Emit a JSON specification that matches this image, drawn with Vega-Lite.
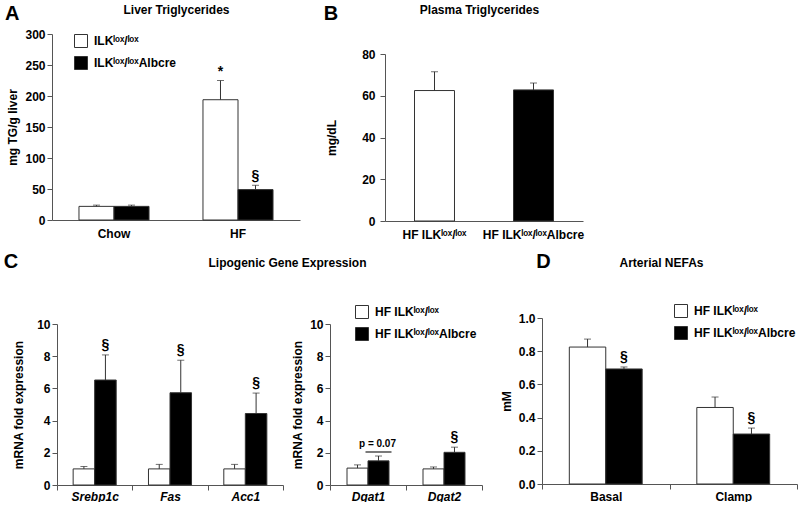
{
  "$schema": "https://vega.github.io/schema/vega-lite/v6.json",
  "padding": {"left": 3, "top": 3, "right": 0, "bottom": 0},
  "background": "white",
  "config": {
    "font": "Liberation Sans",
    "view": {"stroke": null},
    "title": {"fontSize": 20, "fontWeight": "bold", "anchor": "start", "frame": "bounds", "color": "#000", "offset": 0},
    "axis": {"labelFontSize": 12, "labelFontWeight": "bold", "labelColor": "#000", "titleFontSize": 12, "titleFontWeight": "bold", "titleColor": "#000", "domainColor": "#555", "tickColor": "#555", "domainWidth": 1, "tickWidth": 1, "tickSize": 5, "grid": false, "labelPadding": 2, "labelOverlap": false},
    "axisX": {"labelAngle": 0},
    "legend": {"orient": "none", "title": null, "symbolType": "square", "symbolSize": 169, "symbolStrokeColor": "#333", "symbolStrokeWidth": 1, "labelFontSize": 12, "labelFontWeight": "bold", "labelColor": "#000", "rowPadding": 4, "labelOffset": 6, "padding": 0},
    "bar": {"stroke": "#333", "strokeWidth": 1}
  },
  "resolve": {"scale": {"fill": "independent", "xOffset": "independent"}, "legend": {"fill": "independent"}},
  "spacing": 12,
  "vconcat": [
    {
      "hconcat": [
        {
          "width": 248, "height": 186,
          "title": {"text": "A", "dx": -2, "dy": 25},
          "data": {"values": [
            {"diet": "Chow", "group": "ILKˡᵒˣ/ˡᵒˣ", "mean": 22, "upper": 24, "sig": ""},
            {"diet": "Chow", "group": "ILKˡᵒˣ/ˡᵒˣAlbcre", "mean": 22, "upper": 24, "sig": ""},
            {"diet": "HF", "group": "ILKˡᵒˣ/ˡᵒˣ", "mean": 194, "upper": 225, "sig": "*"},
            {"diet": "HF", "group": "ILKˡᵒˣ/ˡᵒˣAlbcre", "mean": 49, "upper": 56, "sig": "§"}
          ]},
          "resolve": {"axis": {"x": "independent"}},
          "encoding": {
            "x": {"field": "diet", "type": "nominal", "scale": {"domain": ["Chow", "HF"], "paddingInner": 0, "paddingOuter": 0}, "axis": null},
            "xOffset": {"field": "group", "type": "nominal", "scale": {"domain": ["ILKˡᵒˣ/ˡᵒˣ", "ILKˡᵒˣ/ˡᵒˣAlbcre"], "paddingInner": 0, "paddingOuter": 0.77}}
          },
          "layer": [
            {
              "mark": {"type": "bar"},
              "encoding": {
                "x": {"field": "diet", "type": "nominal", "scale": {"domain": ["Chow", "HF"], "paddingInner": 0, "paddingOuter": 0}, "axis": {"title": null, "ticks": false, "labelPadding": 8}},
                "y": {"field": "mean", "type": "quantitative", "scale": {"domain": [0, 300], "nice": false}, "axis": {"title": "mg TG/g liver", "values": [0, 50, 100, 150, 200, 250, 300], "titlePadding": 5}},
                "fill": {"field": "group", "type": "nominal", "scale": {"domain": ["ILKˡᵒˣ/ˡᵒˣ", "ILKˡᵒˣ/ˡᵒˣAlbcre"], "range": ["#ffffff", "#000000"]}, "legend": {"legendX": 22, "legendY": 0}}
              }
            },
            {
              "mark": {"type": "rule", "color": "#333", "strokeWidth": 1},
              "encoding": {
                "x": {"field": "diet", "type": "nominal", "scale": {"domain": ["Chow", "HF"], "paddingInner": 0, "paddingOuter": 0}, "axis": {"orient": "top", "title": "Liver Triglycerides", "labels": false, "ticks": false, "domain": false, "titlePadding": 18}},
                "y": {"field": "mean", "type": "quantitative", "scale": {"domain": [0, 300], "nice": false}, "axis": {"title": "mg TG/g liver", "values": [0, 50, 100, 150, 200, 250, 300], "titlePadding": 5}},
                "y2": {"field": "upper"}
              }
            },
            {
              "mark": {"type": "tick", "color": "#333", "size": 7, "thickness": 1},
              "encoding": {"y": {"field": "upper", "type": "quantitative", "scale": {"domain": [0, 300], "nice": false}, "axis": {"title": "mg TG/g liver", "values": [0, 50, 100, 150, 200, 250, 300], "titlePadding": 5}}}
            },
            {
              "mark": {"type": "text", "baseline": "bottom", "dy": -2, "fontSize": 14, "fontWeight": "bold"},
              "encoding": {"y": {"field": "upper", "type": "quantitative", "scale": {"domain": [0, 300], "nice": false}, "axis": {"title": "mg TG/g liver", "values": [0, 50, 100, 150, 200, 250, 300], "titlePadding": 5}}, "text": {"field": "sig"}}
            }
          ]
        },
        {
          "width": 198, "height": 187,
          "title": {"text": "B", "dx": -2, "dy": 25},
          "data": {"values": [
            {"group": "HF ILKˡᵒˣ/ˡᵒˣ", "mean": 62.5, "upper": 71.5},
            {"group": "HF ILKˡᵒˣ/ˡᵒˣAlbcre", "mean": 62.8, "upper": 66.1}
          ]},
          "resolve": {"axis": {"x": "independent"}},
          "encoding": {
            "x": {"field": "group", "type": "nominal", "scale": {"domain": ["HF ILKˡᵒˣ/ˡᵒˣ", "HF ILKˡᵒˣ/ˡᵒˣAlbcre"], "paddingInner": 0.596, "paddingOuter": 0.298}, "axis": null}
          },
          "layer": [
            {
              "mark": {"type": "bar"},
              "encoding": {
                "x": {"field": "group", "type": "nominal", "scale": {"domain": ["HF ILKˡᵒˣ/ˡᵒˣ", "HF ILKˡᵒˣ/ˡᵒˣAlbcre"], "paddingInner": 0.596, "paddingOuter": 0.298}, "axis": {"title": null, "ticks": false, "labelPadding": 8}},
                "y": {"field": "mean", "type": "quantitative", "scale": {"domain": [0, 80], "nice": false, "range": [187, 20]}, "axis": {"title": "mg/dL", "values": [0, 20, 40, 60, 80], "labelPadding": 5, "titlePadding": 23}},
                "fill": {"field": "group", "type": "nominal", "scale": {"domain": ["HF ILKˡᵒˣ/ˡᵒˣ", "HF ILKˡᵒˣ/ˡᵒˣAlbcre"], "range": ["#ffffff", "#000000"]}, "legend": null}
              }
            },
            {
              "mark": {"type": "rule", "color": "#333", "strokeWidth": 1},
              "encoding": {
                "x": {"field": "group", "type": "nominal", "scale": {"domain": ["HF ILKˡᵒˣ/ˡᵒˣ", "HF ILKˡᵒˣ/ˡᵒˣAlbcre"], "paddingInner": 0.596, "paddingOuter": 0.298}, "axis": {"orient": "top", "title": "Plasma Triglycerides", "labels": false, "ticks": false, "domain": false, "titlePadding": 18, "titleX": 94}},
                "y": {"field": "mean", "type": "quantitative", "scale": {"domain": [0, 80], "nice": false, "range": [187, 20]}, "axis": {"title": "mg/dL", "values": [0, 20, 40, 60, 80], "labelPadding": 5, "titlePadding": 23}},
                "y2": {"field": "upper"}
              }
            },
            {
              "mark": {"type": "tick", "color": "#333", "size": 7, "thickness": 1},
              "encoding": {"y": {"field": "upper", "type": "quantitative", "scale": {"domain": [0, 80], "nice": false, "range": [187, 20]}, "axis": {"title": "mg/dL", "values": [0, 20, 40, 60, 80], "labelPadding": 5, "titlePadding": 23}}}
            }
          ]
        }
      ],
      "spacing": 23,
      "resolve": {"scale": {"fill": "independent", "xOffset": "independent"}, "legend": {"fill": "independent"}}
    },
    {
      "hconcat": [
        {
          "hconcat": [
            {
              "width": 231, "height": 167,
              "title": {"text": "C", "dx": -9, "dy": 20},
              "data": {"values": [
                {"gene": "Srebp1c", "group": "HF ILKˡᵒˣ/ˡᵒˣ", "mean": 1.0, "upper": 1.15, "sig": ""},
                {"gene": "Srebp1c", "group": "HF ILKˡᵒˣ/ˡᵒˣAlbcre", "mean": 6.52, "upper": 8.08, "sig": "§"},
                {"gene": "Fas", "group": "HF ILKˡᵒˣ/ˡᵒˣ", "mean": 1.0, "upper": 1.28, "sig": ""},
                {"gene": "Fas", "group": "HF ILKˡᵒˣ/ˡᵒˣAlbcre", "mean": 5.73, "upper": 7.75, "sig": "§"},
                {"gene": "Acc1", "group": "HF ILKˡᵒˣ/ˡᵒˣ", "mean": 1.0, "upper": 1.28, "sig": ""},
                {"gene": "Acc1", "group": "HF ILKˡᵒˣ/ˡᵒˣAlbcre", "mean": 4.44, "upper": 5.71, "sig": "§"}
              ]},
              "resolve": {"axis": {"x": "independent"}},
              "encoding": {
                "x": {"field": "gene", "type": "nominal", "scale": {"domain": ["Srebp1c", "Fas", "Acc1"], "paddingInner": 0, "paddingOuter": 0, "range": [5, 231]}, "axis": null},
                "xOffset": {"field": "group", "type": "nominal", "scale": {"domain": ["HF ILKˡᵒˣ/ˡᵒˣ", "HF ILKˡᵒˣ/ˡᵒˣAlbcre"], "paddingInner": 0, "paddingOuter": 0.75}}
              },
              "layer": [
                {
                  "mark": {"type": "bar"},
                  "encoding": {
                    "x": {"field": "gene", "type": "nominal", "scale": {"domain": ["Srebp1c", "Fas", "Acc1"], "paddingInner": 0, "paddingOuter": 0, "range": [5, 231]}, "axis": {"title": null, "tickBand": "extent", "labelFontStyle": "italic", "labelPadding": 1}},
                    "y": {"field": "mean", "type": "quantitative", "scale": {"domain": [0, 10], "nice": false, "range": [167, 6]}, "axis": {"title": "mRNA fold expression", "values": [0, 2, 4, 6, 8, 10], "titlePadding": 11, "offset": -5}},
                    "fill": {"field": "group", "type": "nominal", "scale": {"domain": ["HF ILKˡᵒˣ/ˡᵒˣ", "HF ILKˡᵒˣ/ˡᵒˣAlbcre"], "range": ["#ffffff", "#000000"]}, "legend": null}
                  }
                },
                {
                  "mark": {"type": "rule", "color": "#333", "strokeWidth": 1},
                  "encoding": {
                    "x": {"field": "gene", "type": "nominal", "scale": {"domain": ["Srebp1c", "Fas", "Acc1"], "paddingInner": 0, "paddingOuter": 0, "range": [5, 231]}, "axis": {"orient": "top", "title": "Lipogenic Gene Expression", "labels": false, "ticks": false, "domain": false, "titlePadding": 49, "titleX": 235}},
                    "y": {"field": "mean", "type": "quantitative", "scale": {"domain": [0, 10], "nice": false, "range": [167, 6]}, "axis": {"title": "mRNA fold expression", "values": [0, 2, 4, 6, 8, 10], "titlePadding": 11, "offset": -5}},
                    "y2": {"field": "upper"}
                  }
                },
                {
                  "mark": {"type": "tick", "color": "#333", "size": 7, "thickness": 1},
                  "encoding": {"y": {"field": "upper", "type": "quantitative", "scale": {"domain": [0, 10], "nice": false, "range": [167, 6]}, "axis": {"title": "mRNA fold expression", "values": [0, 2, 4, 6, 8, 10], "titlePadding": 11, "offset": -5}}}
                },
                {
                  "mark": {"type": "text", "baseline": "bottom", "dy": -3, "fontSize": 14, "fontWeight": "bold"},
                  "encoding": {"y": {"field": "upper", "type": "quantitative", "scale": {"domain": [0, 10], "nice": false, "range": [167, 6]}, "axis": {"title": "mRNA fold expression", "values": [0, 2, 4, 6, 8, 10], "titlePadding": 11, "offset": -5}}, "text": {"field": "sig"}}
                }
              ]
            },
            {
              "width": 152, "height": 167,
              "data": {"values": [
                {"gene": "Dgat1", "group": "HF ILKˡᵒˣ/ˡᵒˣ", "mean": 1.05, "upper": 1.25, "sig": ""},
                {"gene": "Dgat1", "group": "HF ILKˡᵒˣ/ˡᵒˣAlbcre", "mean": 1.5, "upper": 1.8, "sig": ""},
                {"gene": "Dgat2", "group": "HF ILKˡᵒˣ/ˡᵒˣ", "mean": 1.0, "upper": 1.12, "sig": ""},
                {"gene": "Dgat2", "group": "HF ILKˡᵒˣ/ˡᵒˣAlbcre", "mean": 2.03, "upper": 2.35, "sig": "§"}
              ]},
              "encoding": {
                "x": {"field": "gene", "type": "nominal", "scale": {"domain": ["Dgat1", "Dgat2"], "paddingInner": 0, "paddingOuter": 0}, "axis": {"title": null, "tickBand": "extent", "labelFontStyle": "italic", "labelPadding": 1}},
                "xOffset": {"field": "group", "type": "nominal", "scale": {"domain": ["HF ILKˡᵒˣ/ˡᵒˣ", "HF ILKˡᵒˣ/ˡᵒˣAlbcre"], "paddingInner": 0, "paddingOuter": 0.81}}
              },
              "layer": [
                {
                  "mark": {"type": "bar"},
                  "encoding": {
                    "y": {"field": "mean", "type": "quantitative", "scale": {"domain": [0, 10], "nice": false, "range": [167, 6]}, "axis": {"title": "mRNA fold expression", "values": [0, 2, 4, 6, 8, 10], "titlePadding": 5}},
                    "fill": {"field": "group", "type": "nominal", "scale": {"domain": ["HF ILKˡᵒˣ/ˡᵒˣ", "HF ILKˡᵒˣ/ˡᵒˣAlbcre"], "range": ["#ffffff", "#000000"]}, "legend": {"legendX": 25, "legendY": -13}}
                  }
                },
                {
                  "mark": {"type": "rule", "color": "#333", "strokeWidth": 1},
                  "encoding": {
                    "y": {"field": "mean", "type": "quantitative", "scale": {"domain": [0, 10], "nice": false, "range": [167, 6]}, "axis": {"title": "mRNA fold expression", "values": [0, 2, 4, 6, 8, 10], "titlePadding": 5}},
                    "y2": {"field": "upper"}
                  }
                },
                {
                  "mark": {"type": "tick", "color": "#333", "size": 7, "thickness": 1},
                  "encoding": {"y": {"field": "upper", "type": "quantitative", "scale": {"domain": [0, 10], "nice": false, "range": [167, 6]}, "axis": {"title": "mRNA fold expression", "values": [0, 2, 4, 6, 8, 10], "titlePadding": 5}}}
                },
                {
                  "mark": {"type": "text", "baseline": "bottom", "dy": -3, "fontSize": 14, "fontWeight": "bold"},
                  "encoding": {"y": {"field": "upper", "type": "quantitative", "scale": {"domain": [0, 10], "nice": false, "range": [167, 6]}, "axis": {"title": "mRNA fold expression", "values": [0, 2, 4, 6, 8, 10], "titlePadding": 5}}, "text": {"field": "sig"}}
                },
                {
                  "data": {"values": [{"gene": "Dgat1", "group": "HF ILKˡᵒˣ/ˡᵒˣAlbcre", "level": 2.05, "label": "p = 0.07"}]},
                  "mark": {"type": "tick", "color": "#000", "size": 26, "thickness": 1.5},
                  "encoding": {"y": {"field": "level", "type": "quantitative", "scale": {"domain": [0, 10], "nice": false, "range": [167, 6]}, "axis": {"title": "mRNA fold expression", "values": [0, 2, 4, 6, 8, 10], "titlePadding": 5}}}
                },
                {
                  "data": {"values": [{"gene": "Dgat1", "group": "HF ILKˡᵒˣ/ˡᵒˣAlbcre", "level": 2.05, "label": "p = 0.07"}]},
                  "mark": {"type": "text", "baseline": "bottom", "dy": -3, "dx": -1, "fontSize": 10, "fontWeight": "bold"},
                  "encoding": {"y": {"field": "level", "type": "quantitative", "scale": {"domain": [0, 10], "nice": false, "range": [167, 6]}, "axis": {"title": "mRNA fold expression", "values": [0, 2, 4, 6, 8, 10], "titlePadding": 5}}, "text": {"field": "label"}}
                }
              ]
            }
          ],
          "spacing": 47,
          "bounds": "flush",
          "resolve": {"scale": {"fill": "independent", "xOffset": "independent"}, "legend": {"fill": "independent"}}
        },
        {
          "width": 255, "height": 166,
          "title": {"text": "D", "dx": 36, "dy": 20},
          "data": {"values": [
            {"cond": "Basal", "group": "HF ILKˡᵒˣ/ˡᵒˣ", "mean": 0.825, "upper": 0.873, "sig": ""},
            {"cond": "Basal", "group": "HF ILKˡᵒˣ/ˡᵒˣAlbcre", "mean": 0.693, "upper": 0.705, "sig": "§"},
            {"cond": "Clamp", "group": "HF ILKˡᵒˣ/ˡᵒˣ", "mean": 0.461, "upper": 0.524, "sig": ""},
            {"cond": "Clamp", "group": "HF ILKˡᵒˣ/ˡᵒˣAlbcre", "mean": 0.301, "upper": 0.337, "sig": "§"}
          ]},
          "resolve": {"axis": {"x": "independent"}},
          "encoding": {
            "x": {"field": "cond", "type": "nominal", "scale": {"domain": ["Basal", "Clamp"], "paddingInner": 0, "paddingOuter": 0}, "axis": null},
            "xOffset": {"field": "group", "type": "nominal", "scale": {"domain": ["HF ILKˡᵒˣ/ˡᵒˣ", "HF ILKˡᵒˣ/ˡᵒˣAlbcre"], "paddingInner": 0, "paddingOuter": 0.75}}
          },
          "layer": [
            {
              "mark": {"type": "bar"},
              "encoding": {
                "x": {"field": "cond", "type": "nominal", "scale": {"domain": ["Basal", "Clamp"], "paddingInner": 0, "paddingOuter": 0}, "axis": {"title": null, "tickBand": "extent", "labelPadding": 2}},
                "y": {"field": "mean", "type": "quantitative", "scale": {"domain": [0, 1], "nice": false}, "axis": {"title": "mM", "values": [0, 0.2, 0.4, 0.6, 0.8, 1.0], "format": ".1f", "titlePadding": 5}},
                "fill": {"field": "group", "type": "nominal", "scale": {"domain": ["HF ILKˡᵒˣ/ˡᵒˣ", "HF ILKˡᵒˣ/ˡᵒˣAlbcre"], "range": ["#ffffff", "#000000"]}, "legend": {"legendX": 132, "legendY": -14}}
              }
            },
            {
              "mark": {"type": "rule", "color": "#333", "strokeWidth": 1},
              "encoding": {
                "x": {"field": "cond", "type": "nominal", "scale": {"domain": ["Basal", "Clamp"], "paddingInner": 0, "paddingOuter": 0}, "axis": {"orient": "top", "title": "Arterial NEFAs", "labels": false, "ticks": false, "domain": false, "titlePadding": 49, "titleX": 119}},
                "y": {"field": "mean", "type": "quantitative", "scale": {"domain": [0, 1], "nice": false}, "axis": {"title": "mM", "values": [0, 0.2, 0.4, 0.6, 0.8, 1.0], "format": ".1f", "titlePadding": 5}},
                "y2": {"field": "upper"}
              }
            },
            {
              "mark": {"type": "tick", "color": "#333", "size": 7, "thickness": 1},
              "encoding": {"y": {"field": "upper", "type": "quantitative", "scale": {"domain": [0, 1], "nice": false}, "axis": {"title": "mM", "values": [0, 0.2, 0.4, 0.6, 0.8, 1.0], "format": ".1f", "titlePadding": 5}}}
            },
            {
              "mark": {"type": "text", "baseline": "bottom", "dy": -3, "fontSize": 14, "fontWeight": "bold"},
              "encoding": {"y": {"field": "upper", "type": "quantitative", "scale": {"domain": [0, 1], "nice": false}, "axis": {"title": "mM", "values": [0, 0.2, 0.4, 0.6, 0.8, 1.0], "format": ".1f", "titlePadding": 5}}, "text": {"field": "sig"}}
            }
          ]
        }
      ],
      "spacing": 17,
      "resolve": {"scale": {"fill": "independent", "xOffset": "independent"}, "legend": {"fill": "independent"}}
    }
  ]
}
